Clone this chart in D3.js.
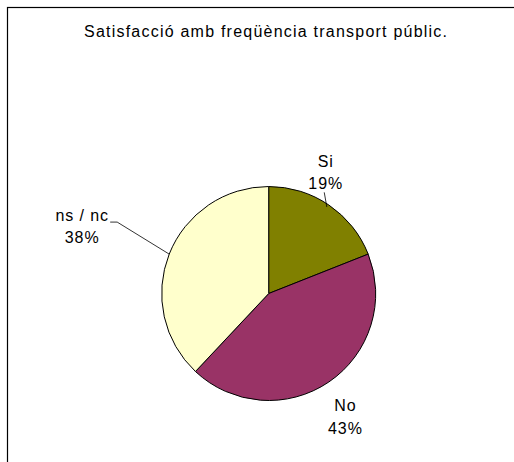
<!DOCTYPE html>
<html>
<head>
<meta charset="utf-8">
<script src="https://cdn.jsdelivr.net/npm/d3@7"></script>
<style>
  html, body { margin: 0; padding: 0; background: #fff; }
  svg { display: block; }
  text { font-family: "Liberation Sans", Arial, sans-serif; fill: #000; }
</style>
</head>
<body>
<svg id="chart" width="514" height="462"></svg>
<script>
// ---- data ----
const title = "Satisfacció amb freqüència transport públic.";
const categories = ["Si", "No", "ns / nc"];
const values = [19, 43, 38];
const percentLabels = ["19%", "43%", "38%"];

// ---- styles / layout ----
const colors = ["#808000", "#993366", "#FFFFCC"];
const W = 514, H = 462;
const cx = 268.7, cy = 293.5, R = 107;
// label placement: polar radius and angle shift (degrees) relative to slice mid-angle
const labelRadius = [133, 146, 198];
const labelAngleShift = [-8.8, 2.5, -2];
const leaderShow = [true, false, true];

const svg = d3.select("#chart");

// frame (extends past the visible window, as in the reference)
svg.append("rect")
  .attr("x", 7.5).attr("y", 7.5)
  .attr("width", W + 20).attr("height", H + 20)
  .attr("fill", "none").attr("stroke", "#000").attr("stroke-width", 1.2);

svg.append("text")
  .attr("x", 84).attr("y", 37)
  .attr("textLength", 363)
  .attr("lengthAdjust", "spacing")
  .style("font-size", "16px")
  .text(title);

const pie = d3.pie().sort(null).value(d => d)
  .startAngle(0).endAngle(2 * Math.PI);
const arcs = pie(values);
const arc = d3.arc().innerRadius(0).outerRadius(R);

const g = svg.append("g").attr("transform", `translate(${cx},${cy})`);

g.selectAll("path.slice")
  .data(arcs)
  .join("path")
  .attr("class", "slice")
  .attr("d", arc)
  .attr("fill", (d, i) => colors[i])
  .attr("stroke", "#000")
  .attr("stroke-width", 1);

const polar = (r, a) => [r * Math.sin(a), -r * Math.cos(a)];

arcs.forEach((d, i) => {
  const mid = (d.startAngle + d.endAngle) / 2;
  const la = mid + labelAngleShift[i] * Math.PI / 180;
  const [lx, ly] = polar(labelRadius[i], la);
  const t = g.append("text")
    .attr("text-anchor", "middle")
    .style("font-size", "16px")
    .style("letter-spacing", "0.9px");
  t.append("tspan").attr("x", lx).attr("y", ly - 6.5).text(categories[i]);
  t.append("tspan").attr("x", lx).attr("y", ly + 16).text(percentLabels[i]);

  if (leaderShow[i]) {
    const [ex, ey] = polar(R, mid);
    let pts;
    if (i === 0) {
      pts = [[lx - 1.5, ly + 19], [ex - 2, ey + 2]];
    } else {
      pts = [[lx + 28, ly - 5], [lx + 35, ly - 5], [ex, ey]];
    }
    g.append("path")
      .attr("d", d3.line()(pts))
      .attr("fill", "none")
      .attr("stroke", "#000")
      .attr("stroke-width", 0.8);
  }
});
</script>
</body>
</html>
